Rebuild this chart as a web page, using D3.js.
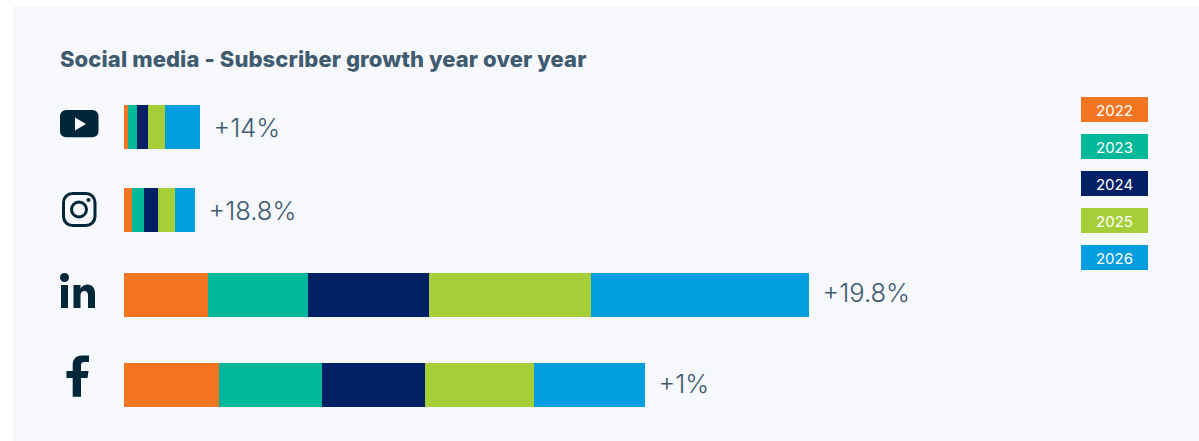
<!DOCTYPE html>
<html lang="en">

<head>
    <meta charset="UTF-8">
    <title>Social media - Subscriber growth year over year</title>
    <script src="https://cdnjs.cloudflare.com/ajax/libs/d3/7.9.0/d3.min.js"></script>
    <style>
        html, body { margin: 0; padding: 0; background: #fff; overflow: hidden; }
    </style>
</head>

<body>
    <svg width="1199" height="441"></svg>

    <script>
        // Data (relative subscriber growth per year)
        const years = ["2022", "2023", "2024", "2025", "2026"];
        const platforms = ["youtube", "instagram", "linkedin", "facebook"];
        const youtube = [4, 9, 11, 17, 35];
        const instagram = [8, 12, 14, 17, 20];
        const linkedin = [84, 100, 121, 162, 218];
        const facebook = [95, 103, 103, 109, 111];
        const growthLabels = ["+14%", "+18.8%", "+19.8%", "+1%"];
        const colors = ["#f47521", "#02b89b", "#032066", "#a6ce39", "#009ddf"];

        const rows = [youtube, instagram, linkedin, facebook];
        const ink = "#00263a";
        const textColor = "#3f5b70";
        const panelColor = "#f6f8fc";

        const svg = d3.select("svg");

        // Panel runs off the right edge of the window
        svg.append("rect")
            .attr("x", 13).attr("y", 6)
            .attr("width", 1186).attr("height", 435)
            .attr("fill", panelColor);

        svg.append("text")
            .attr("x", 60).attr("y", 67)
            .attr("font-family", "Inter")
            .attr("font-weight", 800)
            .attr("font-size", 22)
            .attr("letter-spacing", 0.1)
            .attr("fill", textColor)
            .text("Social media - Subscriber growth year over year");

        // Scales
        const x = d3.scaleLinear().domain([0, 685]).range([124, 809]);
        const rowTop = d3.scaleOrdinal().domain(platforms).range([105, 188, 273, 363]);
        const labelBase = d3.scaleOrdinal().domain(platforms).range([137, 220, 302, 393]);
        const color = d3.scaleOrdinal().domain(years).range(colors);
        const barHeight = 44;

        // Stacked bars
        const stack = d3.stack().keys(years.map((y, i) => i));
        const series = stack(rows);

        series.forEach((layer, i) => {
            svg.append("g")
                .selectAll("rect")
                .data(layer)
                .join("rect")
                .attr("x", d => x(d[0]))
                .attr("y", (d, j) => rowTop(platforms[j]))
                .attr("width", d => x(d[1]) - x(d[0]))
                .attr("height", barHeight)
                .attr("fill", color(years[i]));
        });

        // Growth labels at the end of each bar
        svg.append("g")
            .selectAll("text")
            .data(rows)
            .join("text")
            .attr("x", d => x(d3.sum(d)) + 13.5)
            .attr("y", (d, j) => labelBase(platforms[j]))
            .attr("font-family", "Inter")
            .attr("font-weight", 300)
            .attr("font-size", 25.5)
            .attr("fill", textColor)
            .text((d, j) => growthLabels[j]);

        // Legend
        const legendY = d3.scaleBand().domain(years).range([97, 282]).paddingInner(0);
        const legend = svg.append("g")
            .selectAll("g")
            .data(years)
            .join("g")
            .attr("transform", d => `translate(1081,${legendY(d)})`);

        legend.append("rect")
            .attr("width", 67)
            .attr("height", 25)
            .attr("fill", d => color(d));

        legend.append("text")
            .attr("x", 33.5)
            .attr("y", 18.5)
            .attr("text-anchor", "middle")
            .attr("font-family", "Inter")
            .attr("font-size", 15)
            .attr("fill", "#fff")
            .text(d => d);

        // Platform icons
        const yt = svg.append("g").attr("transform", "translate(60,110)");
        yt.append("rect").attr("width", 38.5).attr("height", 27.3).attr("rx", 6).attr("fill", ink);
        yt.append("path").attr("d", "M15 7.5 L26 14 L15 20.5 Z").attr("fill", panelColor);

        const ig = svg.append("g").attr("transform", "translate(62,192)");
        ig.append("rect").attr("x", 1.5).attr("y", 1.5).attr("width", 31.5).attr("height", 32).attr("rx", 9)
            .attr("fill", "none").attr("stroke", ink).attr("stroke-width", 3);
        ig.append("circle").attr("cx", 17).attr("cy", 17.5).attr("r", 7.5)
            .attr("fill", "none").attr("stroke", ink).attr("stroke-width", 3);
        ig.append("circle").attr("cx", 26.5).attr("cy", 8).attr("r", 2).attr("fill", ink);

        const li = svg.append("g").attr("transform", "translate(60,273)");
        li.append("circle").attr("cx", 4.5).attr("cy", 4.5).attr("r", 4.5).attr("fill", ink);
        li.append("rect").attr("x", 1).attr("y", 12).attr("width", 7).attr("height", 23).attr("fill", ink);
        li.append("path")
            .attr("d", "M13.5 12 H20.5 V15.5 C22.5 12.5 25 11.5 27.5 11.5 C32.5 11.5 35 15 35 21 V35 H28 V22.5 C28 19.5 26.8 18 24.3 18 C22 18 20.5 19.5 20.5 22.5 V35 H13.5 Z")
            .attr("fill", ink);

        const fb = svg.append("g").attr("transform", "translate(66,355)");
        fb.append("path")
            .attr("d", "M6.7 41.7 V23 H0.5 V16 H6.7 V10 C6.7 3.5 10.5 0.5 16 0.5 H23 V7 H18.5 C16 7 15 8 15 10.5 V16 H22.5 L21.5 23 H15 V41.7 Z")
            .attr("fill", ink);
    </script>
</body>

</html>
